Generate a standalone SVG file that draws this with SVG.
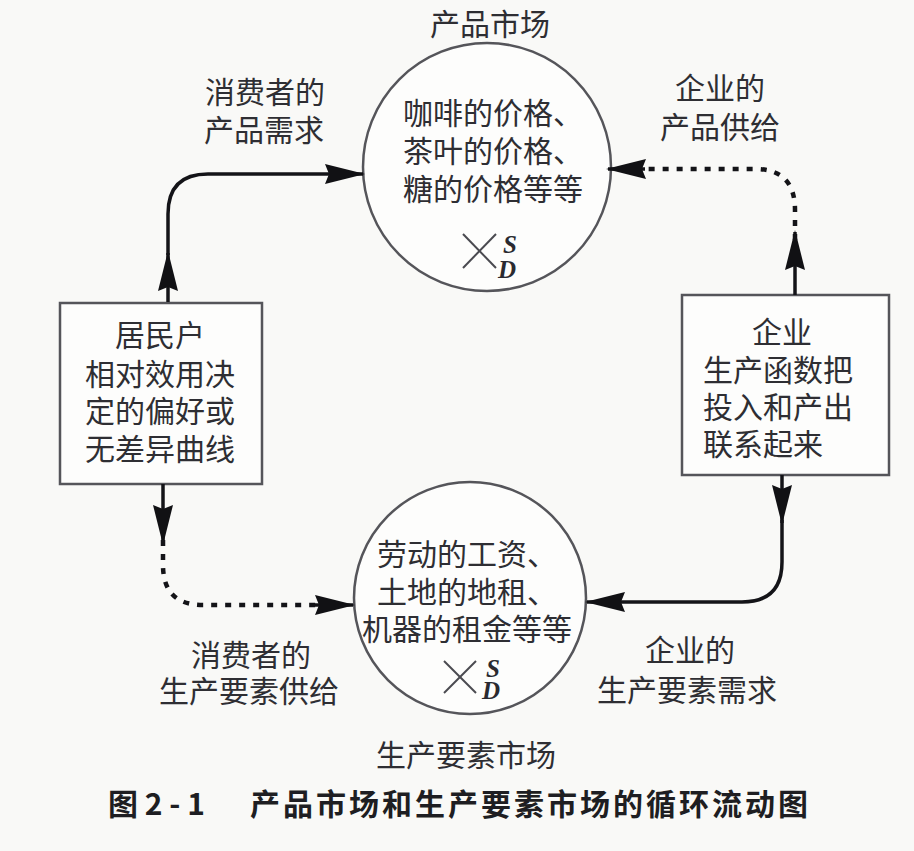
<svg xmlns="http://www.w3.org/2000/svg" width="914" height="851" viewBox="0 0 914 851">
<style>
.bg{fill:#f9f9f7}
.t{font-family:"Noto Sans CJK SC","Liberation Sans",sans-serif;fill:#2e2e33;font-size:30px}
.c{text-anchor:middle}
.node{fill:#fdfdfc;stroke:#55555a;stroke-width:2.5}
.sd{font-family:"Liberation Serif",serif;font-style:italic;font-weight:bold;fill:#2a2a30;font-size:25px}
.xl{stroke:#4a4a50;stroke-width:2}
.solid{fill:none;stroke:#141418;stroke-width:3.5}
.dot{fill:none;stroke:#141418;stroke-width:4.5;stroke-dasharray:6 8}
.cap{font-family:"Noto Sans CJK SC","Liberation Sans",sans-serif;font-weight:bold;fill:#1e1e22;font-size:30px}
</style>
<defs>
<marker id="ah" viewBox="0 0 40 22" refX="38" refY="11" markerWidth="40" markerHeight="22" markerUnits="userSpaceOnUse" orient="auto">
<path d="M0,1 L40,11 L0,21 L4,11 Z" fill="#111114"/>
</marker>
</defs>
<rect class="bg" x="0" y="0" width="914" height="851"/>

<text class="t c" x="490" y="22" dominant-baseline="central" font-size="27">产品市场</text>

<g id="product-market">
<circle class="node" cx="487" cy="167" r="124"/>
<text class="t" x="403" y="111" dominant-baseline="central" font-size="31">咖啡的价格、</text>
<text class="t" x="403" y="149" dominant-baseline="central" font-size="31">茶叶的价格、</text>
<text class="t" x="403" y="187" dominant-baseline="central" font-size="31">糖的价格等等</text>
<line class="xl" x1="463" y1="234" x2="496" y2="268"/>
<line class="xl" x1="463" y1="268" x2="496" y2="234"/>
<text class="sd" x="503" y="253">S</text>
<text class="sd" x="498" y="278">D</text>
</g>

<g id="factor-market">
<circle class="node" cx="470" cy="598" r="116"/>
<text class="t c" x="467" y="552" dominant-baseline="central" font-size="31">劳动的工资、</text>
<text class="t c" x="467" y="590" dominant-baseline="central" font-size="31">土地的地租、</text>
<text class="t c" x="467" y="627" dominant-baseline="central" font-size="31">机器的租金等等</text>
<line class="xl" x1="444" y1="661" x2="476" y2="693"/>
<line class="xl" x1="444" y1="693" x2="476" y2="661"/>
<text class="sd" x="486" y="677" font-size="23">S</text>
<text class="sd" x="482" y="699" font-size="23">D</text>
</g>

<g id="households">
<rect class="node" x="60" y="303" width="202" height="181"/>
<text class="t c" x="160" y="333" dominant-baseline="central">居民户</text>
<text class="t c" x="160" y="372" dominant-baseline="central">相对效用决</text>
<text class="t c" x="160" y="409" dominant-baseline="central">定的偏好或</text>
<text class="t c" x="160" y="447" dominant-baseline="central">无差异曲线</text>
</g>

<g id="firms">
<rect class="node" x="682" y="295" width="207" height="180"/>
<text class="t c" x="782" y="330" dominant-baseline="central">企业</text>
<text class="t" x="703" y="368" dominant-baseline="central" font-size="31">生产函数把</text>
<text class="t" x="703" y="405" dominant-baseline="central" font-size="31">投入和产出</text>
<text class="t" x="703" y="442" dominant-baseline="central" font-size="31">联系起来</text>
</g>

<g id="connectors">
<path class="solid" d="M168,302 V253" marker-end="url(#ah)"/>
<path class="solid" d="M168,255 V214 Q168,174 208,174 H363" marker-end="url(#ah)"/>
<path class="solid" d="M795,295 V232" marker-end="url(#ah)"/>
<path class="dot" d="M795,240 V210 Q795,169 755,169 H640"/>
<path class="solid" d="M645,169 H608" marker-end="url(#ah)"/>
<path class="solid" d="M163,484 V543" marker-end="url(#ah)"/>
<path class="dot" d="M163,540 V565 Q163,605 203,605 H318"/>
<path class="solid" d="M312,605 H353" marker-end="url(#ah)"/>
<path class="solid" d="M782,475 V523" marker-end="url(#ah)"/>
<path class="solid" d="M782,520 V562 Q782,602 742,602 H587" marker-end="url(#ah)"/>
</g>

<g id="labels">
<text class="t c" x="265" y="90" dominant-baseline="central">消费者的</text>
<text class="t c" x="264" y="128" dominant-baseline="central">产品需求</text>
<text class="t c" x="720" y="86" dominant-baseline="central">企业的</text>
<text class="t c" x="720" y="125" dominant-baseline="central">产品供给</text>
<text class="t c" x="251" y="653" dominant-baseline="central">消费者的</text>
<text class="t c" x="249" y="689" dominant-baseline="central">生产要素供给</text>
<text class="t c" x="690" y="648" dominant-baseline="central">企业的</text>
<text class="t c" x="687" y="688" dominant-baseline="central">生产要素需求</text>
<text class="t c" x="466" y="753" dominant-baseline="central" font-size="27">生产要素市场</text>
</g>

<text class="cap" x="108" y="802" dominant-baseline="central">图 2 - 1</text>
<text class="cap" x="250" y="802" dominant-baseline="central" letter-spacing="3">产品市场和生产要素市场的循环流动图</text>
</svg>
